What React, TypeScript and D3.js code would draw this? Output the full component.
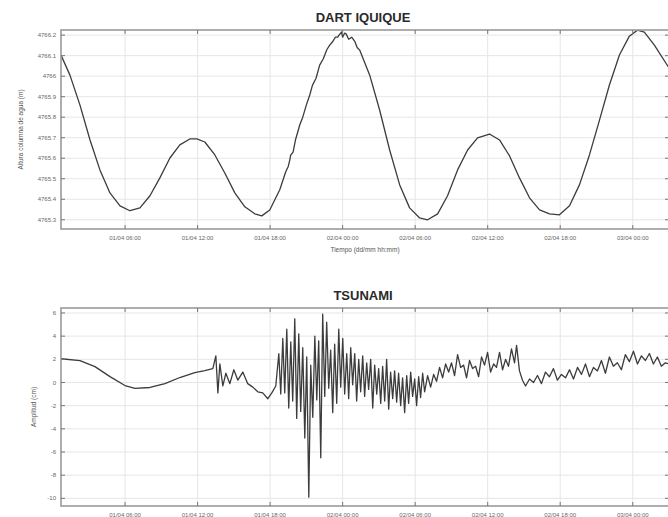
import React from 'react';
import * as d3 from 'd3';

// hours since 01/04 00:42 (left edge of the plots)
const tickHours = [5.3, 11.3, 17.3, 23.3, 29.3, 35.3, 41.3, 47.3];
const tickLabels = ['01/04 06:00', '01/04 12:00', '01/04 18:00', '02/04 00:00', '02/04 06:00', '02/04 12:00', '02/04 18:00', '03/04 00:00'];

const dartTicks = [4765.3, 4765.4, 4765.5, 4765.6, 4765.7, 4765.8, 4765.9, 4766.0, 4766.1, 4766.2];
const tsunamiTicks = [-10, -8, -6, -4, -2, 0, 2, 4, 6];

// water column height (m)
const dartSeries: [number, number][] = [
  [0, 4766.103], [0.74, 4766.005], [1.57, 4765.859], [2.4, 4765.689], [3.22, 4765.543], [4.05, 4765.431],
  [4.88, 4765.368], [5.7, 4765.344], [6.53, 4765.358], [7.36, 4765.417], [8.18, 4765.504], [9.01, 4765.601],
  [9.83, 4765.665], [10.66, 4765.694], [11.24, 4765.694], [11.9, 4765.679], [12.73, 4765.616], [13.55, 4765.528],
  [14.38, 4765.431], [15.21, 4765.363], [16.03, 4765.329], [16.61, 4765.319], [17.27, 4765.348], [18.1, 4765.446],
  [18.4, 4765.50], [18.6, 4765.535], [18.8, 4765.56], [18.93, 4765.592], [19.0, 4765.615], [19.2, 4765.63],
  [19.4, 4765.69], [19.6, 4765.73], [19.75, 4765.762], [20.0, 4765.80], [20.3, 4765.86], [20.58, 4765.908],
  [20.8, 4765.955], [21.1, 4765.99], [21.4, 4766.054], [21.7, 4766.085], [22.0, 4766.13], [22.23, 4766.151],
  [22.5, 4766.17], [22.7, 4766.19], [22.89, 4766.19], [23.0, 4766.20], [23.2, 4766.215], [23.3, 4766.19],
  [23.47, 4766.21], [23.6, 4766.205], [23.8, 4766.18], [24.05, 4766.19], [24.3, 4766.17], [24.5, 4766.14],
  [24.71, 4766.127], [25.54, 4766.005], [26.36, 4765.835], [27.19, 4765.64], [28.02, 4765.47], [28.84, 4765.358],
  [29.67, 4765.309], [30.33, 4765.3], [31.16, 4765.329], [31.98, 4765.417], [32.81, 4765.543], [33.64, 4765.64],
  [34.46, 4765.699], [35.45, 4765.718], [36.28, 4765.689], [37.11, 4765.611], [37.93, 4765.504], [38.76, 4765.407],
  [39.59, 4765.348], [40.41, 4765.329], [41.24, 4765.324], [42.07, 4765.368], [42.89, 4765.47], [43.72, 4765.616],
  [44.55, 4765.786], [45.37, 4765.957], [46.2, 4766.103], [47.02, 4766.195], [47.69, 4766.224], [48.26, 4766.215],
  [49.09, 4766.151], [50.3, 4766.04],
];

// de-tided signal (cm)
const tsunamiSeries: [number, number][] = [
  [0, 2.05], [1.57, 1.88], [2.81, 1.37], [4.05, 0.51], [5.29, -0.26], [6.12, -0.51], [7.36, -0.43], [8.6, -0.09],
  [9.83, 0.43], [11.07, 0.85], [11.9, 1.03], [12.56, 1.2], [12.81, 2.3], [12.98, -0.9], [13.14, 1.6], [13.39, -0.3],
  [13.64, 0.8], [13.97, -0.1], [14.3, 1.1], [14.63, 0.2], [15.04, 0.9], [15.45, -0.1], [15.87, -0.4], [16.28, -0.8],
  [16.69, -0.9], [17.11, -1.4], [17.44, -0.9], [17.77, -0.3], [18.02, 2.5], [18.18, -1.0], [18.35, 3.8], [18.51, -0.9],
  [18.68, 4.6], [18.84, -2.2], [19.01, 3.5], [19.17, -1.6], [19.34, 5.5], [19.5, -3.1], [19.67, 4.2], [19.83, -2.5],
  [20.0, 3.0], [20.17, -4.8], [20.33, 2.2], [20.5, -9.9], [20.66, 1.5], [20.83, -3.0], [21.0, 4.0], [21.16, -1.5],
  [21.32, 3.6], [21.49, -6.5], [21.65, 5.9], [21.82, -1.2], [21.98, 5.2], [22.15, -0.5], [22.31, 2.8], [22.48, -2.6],
  [22.64, 3.3], [22.81, -1.8], [22.98, 4.6], [23.14, -0.4], [23.31, 3.8], [23.47, -1.0], [23.64, 2.5], [23.8, -1.4],
  [23.97, 3.0], [24.13, -0.2], [24.3, 2.5], [24.46, -1.6], [24.63, 2.0], [24.79, -0.8], [24.96, 2.3], [25.12, -1.2],
  [25.29, 1.7], [25.45, -0.6], [25.62, 2.0], [25.79, -2.2], [25.95, 1.5], [26.12, -1.0], [26.28, 1.2], [26.45, -1.8],
  [26.61, 1.4], [26.78, -1.6], [26.94, 2.0], [27.11, -2.3], [27.27, 0.9], [27.44, -1.4], [27.6, 1.0], [27.77, -1.7],
  [27.93, 0.8], [28.1, -2.0], [28.26, 0.4], [28.43, -2.6], [28.6, 0.6], [28.76, -1.8], [28.93, 0.9], [29.09, -1.2],
  [29.26, 0.3], [29.42, -2.0], [29.59, 0.5], [29.75, -1.3], [29.92, 0.8], [30.08, -0.8], [30.33, 0.6], [30.58, -0.4],
  [30.83, 0.7], [31.07, 0.1], [31.32, 1.3], [31.57, 0.4], [31.82, 1.6], [32.07, 0.9], [32.31, 1.7], [32.56, 0.6],
  [32.81, 2.4], [33.06, 1.3], [33.31, 1.5], [33.55, 0.4], [33.8, 1.9], [34.05, 1.2], [34.3, 1.4], [34.55, 0.5],
  [34.79, 2.2], [35.04, 1.5], [35.29, 2.6], [35.54, 0.9], [35.79, 1.6], [36.03, 1.3], [36.28, 2.6], [36.53, 1.1],
  [36.78, 2.0], [37.02, 1.4], [37.27, 2.9], [37.52, 1.7], [37.69, 3.2], [37.93, 1.0], [38.18, 0.2], [38.43, -0.3],
  [38.76, 0.3], [39.09, 0.0], [39.42, 0.6], [39.75, -0.1], [40.08, 0.9], [40.41, 0.5], [40.74, 1.2], [41.07, 0.2],
  [41.4, 0.7], [41.74, 0.4], [42.07, 1.1], [42.4, 0.3], [42.73, 1.3], [43.06, 0.7], [43.39, 1.6], [43.72, 0.5],
  [44.05, 1.3], [44.38, 1.0], [44.71, 1.9], [45.04, 0.8], [45.37, 2.2], [45.7, 1.4], [46.03, 1.7], [46.36, 1.1],
  [46.69, 2.4], [47.02, 1.8], [47.36, 2.7], [47.69, 1.6], [48.02, 2.3], [48.35, 1.9], [48.68, 2.5], [49.01, 1.6],
  [49.34, 2.2], [49.67, 1.4], [50.0, 1.7], [50.3, 1.6],
];

const W = 668, H = 517;
const L = 61, R = 669;
const FONT = 'Liberation Sans, Arial, sans-serif';

type PanelProps = {
  title: string; top: number; bottom: number; domain: [number, number];
  ticks: number[]; fmt: (v: number) => string; data: [number, number][];
  yLabel: string; yLabelX: number; xLabel?: string;
};

const Panel = ({ title, top, bottom, domain, ticks, fmt, data, yLabel, yLabelX, xLabel }: PanelProps) => {
  const x = d3.scaleLinear().domain([0, 50.3]).range([L, R]);
  const y = d3.scaleLinear().domain(domain).range([bottom, top]);
  const line = d3.line<[number, number]>().x(d => x(d[0])).y(d => y(d[1]));
  const clipId = 'clip' + top;
  return (
    <g>
      <defs><clipPath id={clipId}><rect x={L} y={top} width={R - L} height={bottom - top} /></clipPath></defs>
      <text x={363} y={top - 8} textAnchor="middle" fontFamily={FONT} fontWeight="bold" fontSize={13} fill="#2a2a2a">{title}</text>
      {ticks.map(t => <line key={'gy' + t} x1={L} x2={R} y1={y(t)} y2={y(t)} stroke="#e6e6e6" />)}
      {tickHours.map(t => <line key={'gx' + t} x1={x(t)} x2={x(t)} y1={top} y2={bottom} stroke="#e6e6e6" />)}
      <path d={line(data) || ''} fill="none" stroke="#3c3c3c" strokeWidth={1.3} strokeLinejoin="round" clipPath={`url(#${clipId})`} />
      <rect x={L} y={top} width={R - L} height={bottom - top} fill="none" stroke="#9a9a9a" strokeWidth={1.6} />
      {ticks.map(t => (
        <g key={'ty' + t}>
          <line x1={L} x2={L + 4} y1={y(t)} y2={y(t)} stroke="#777" />
          <line x1={R - 4} x2={R} y1={y(t)} y2={y(t)} stroke="#777" />
          <text x={L - 5} y={y(t)} dy="0.35em" textAnchor="end" fontFamily={FONT} fontSize={6} fill="#666">{fmt(t)}</text>
        </g>
      ))}
      {tickHours.map((t, i) => (
        <g key={'tx' + t}>
          <line x1={x(t)} x2={x(t)} y1={bottom} y2={bottom - 4} stroke="#777" />
          <line x1={x(t)} x2={x(t)} y1={top} y2={top + 4} stroke="#777" />
          <text x={x(t)} y={bottom + 11} textAnchor="middle" fontFamily={FONT} fontSize={6} fill="#666">{tickLabels[i]}</text>
        </g>
      ))}
      <text transform={`translate(${yLabelX},${(top + bottom) / 2}) rotate(-90)`} textAnchor="middle" fontFamily={FONT} fontSize={6.5} fill="#555">{yLabel}</text>
      {xLabel && <text x={(L + R) / 2} y={bottom + 23} textAnchor="middle" fontFamily={FONT} fontSize={6.5} fill="#555">{xLabel}</text>}
    </g>
  );
};

export default function App() {
  return (
    <div style={{ position: 'fixed', left: 0, top: 0, width: W, height: H, background: '#fff' }}>
      <svg width={W} height={H}>
        <Panel title="DART IQUIQUE" top={30} bottom={229} domain={[4765.255, 4766.225]} ticks={dartTicks}
          fmt={v => String(+v.toFixed(1))} data={dartSeries} yLabel="Altura columna de agua (m)" yLabelX={23}
          xLabel="Tiempo (dd/mm hh:mm)" />
        <Panel title="TSUNAMI" top={308} bottom={506} domain={[-10.66, 6.43]} ticks={tsunamiTicks}
          fmt={v => String(v)} data={tsunamiSeries} yLabel="Amplitud (cm)" yLabelX={36} />
      </svg>
    </div>
  );
}
